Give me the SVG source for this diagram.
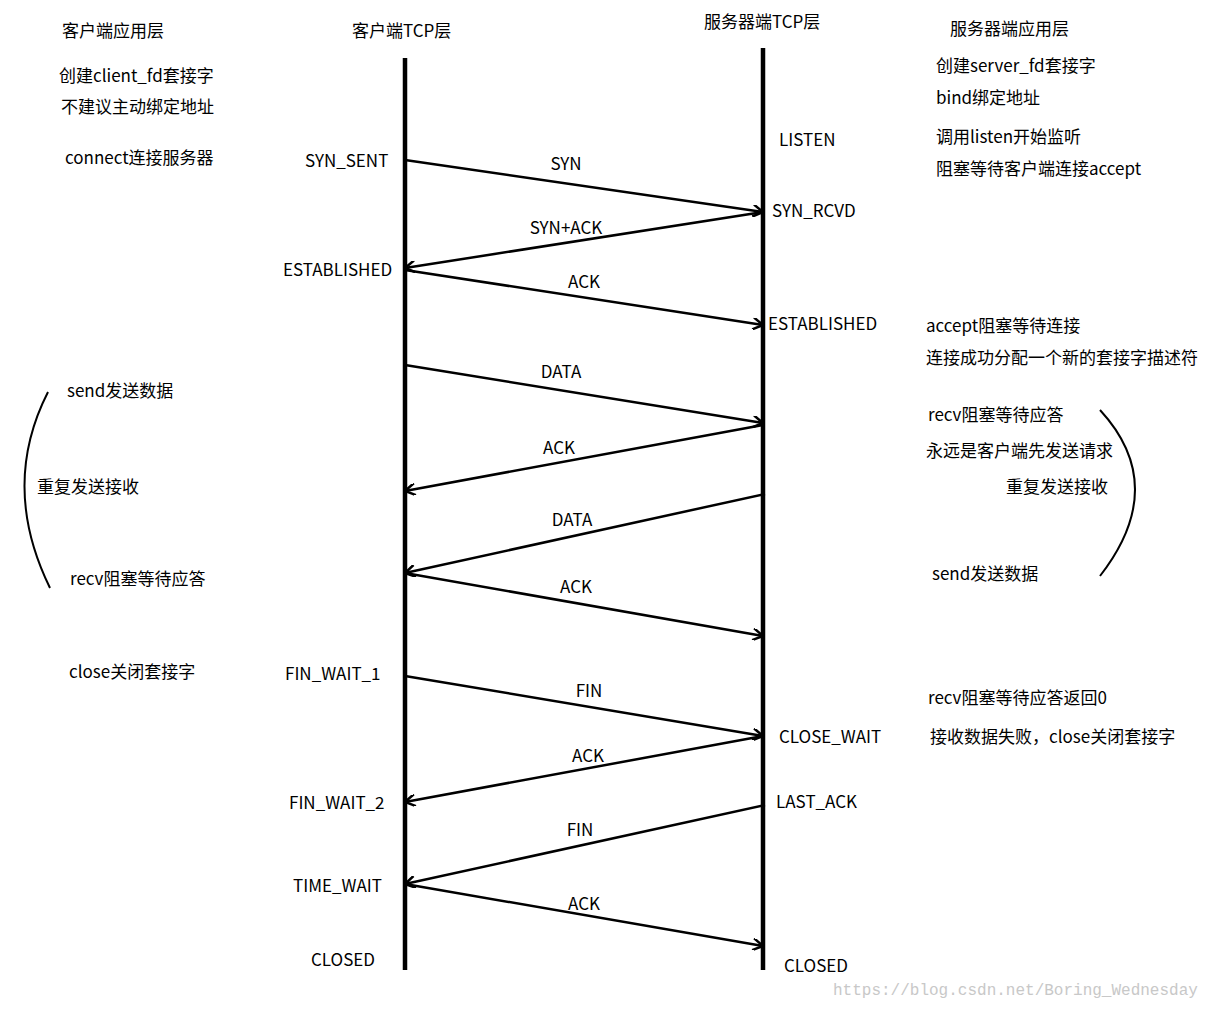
<svg xmlns="http://www.w3.org/2000/svg" width="1224" height="1009" viewBox="0 0 1224 1009">
<defs>
<style>
text{font-family:"Noto Sans CJK SC","Liberation Sans",sans-serif;font-size:17px;fill:#000}
.c{text-anchor:middle}
.a{stroke:#000;stroke-width:2.5;fill:none;marker-end:url(#m)}
.wm{font-family:"Liberation Mono",monospace;font-size:16px;fill:#c8c8c8}
</style>
<marker id="m" viewBox="0 0 12 12" refX="11" refY="6" markerWidth="12" markerHeight="12" markerUnits="userSpaceOnUse" orient="auto"><path d="M1,0 L11,6 L1,12" fill="none" stroke="#000" stroke-width="2.5"/></marker>
</defs>
<rect width="1224" height="1009" fill="#fff"/>
<g id="lifelines" stroke="#000" stroke-width="4.5">
<line x1="405" y1="58" x2="405" y2="970"/>
<line x1="763" y1="48" x2="763" y2="970"/>
</g>
<g id="connectors">
<line class="a" x1="405" y1="160" x2="763" y2="212"/>
<line class="a" x1="763" y1="212" x2="405" y2="268"/>
<line class="a" x1="405" y1="270" x2="763" y2="325"/>
<line class="a" x1="405" y1="365" x2="763" y2="423"/>
<line class="a" x1="763" y1="425" x2="405" y2="491"/>
<line class="a" x1="765" y1="494" x2="405" y2="573"/>
<line class="a" x1="405" y1="573" x2="763" y2="636"/>
<line class="a" x1="405" y1="676" x2="763" y2="736"/>
<line class="a" x1="763" y1="736" x2="405" y2="802"/>
<line class="a" x1="765" y1="805" x2="405" y2="884"/>
<line class="a" x1="405" y1="884" x2="763" y2="946"/>
<path d="M48,392 Q0,486 50,588" stroke="#000" stroke-width="2" fill="none"/>
<path d="M1100,410 Q1170,486 1100,576" stroke="#000" stroke-width="2" fill="none"/>
</g>
<g id="labels">
<text class="c" x="566" y="170">SYN</text>
<text class="c" x="566" y="234">SYN+ACK</text>
<text class="c" x="584" y="288">ACK</text>
<text class="c" x="561" y="378">DATA</text>
<text class="c" x="559" y="454">ACK</text>
<text class="c" x="572" y="526">DATA</text>
<text class="c" x="576" y="593">ACK</text>
<text class="c" x="589" y="697">FIN</text>
<text class="c" x="588" y="762">ACK</text>
<text class="c" x="580" y="836">FIN</text>
<text class="c" x="584" y="910">ACK</text>
</g>
<g id="client-states">
<text x="305" y="167">SYN_SENT</text>
<text x="283" y="276">ESTABLISHED</text>
<text x="285" y="680">FIN_WAIT_1</text>
<text x="289" y="809">FIN_WAIT_2</text>
<text x="293" y="892">TIME_WAIT</text>
<text x="311" y="966">CLOSED</text>
</g>
<g id="server-states">
<text x="779" y="146">LISTEN</text>
<text x="772" y="217">SYN_RCVD</text>
<text x="768" y="330">ESTABLISHED</text>
<text x="779" y="743">CLOSE_WAIT</text>
<text x="776" y="808">LAST_ACK</text>
<text x="784" y="972">CLOSED</text>
</g>
<g id="headers">
<text x="62" y="37">客户端应用层</text>
<text x="352" y="37">客户端TCP层</text>
<text x="704" y="28">服务器端TCP层</text>
<text x="950" y="35">服务器端应用层</text>
</g>
<g id="client-app">
<text x="59" y="82">创建client_fd套接字</text>
<text x="61" y="113">不建议主动绑定地址</text>
<text x="65" y="164">connect连接服务器</text>
<text x="67" y="397">send发送数据</text>
<text x="37" y="493">重复发送接收</text>
<text x="70" y="585">recv阻塞等待应答</text>
<text x="69" y="678">close关闭套接字</text>
</g>
<g id="server-app">
<text x="936" y="72">创建server_fd套接字</text>
<text x="936" y="104">bind绑定地址</text>
<text x="936" y="143">调用listen开始监听</text>
<text x="936" y="175">阻塞等待客户端连接accept</text>
<text x="926" y="332">accept阻塞等待连接</text>
<text x="926" y="364">连接成功分配一个新的套接字描述符</text>
<text x="928" y="421">recv阻塞等待应答</text>
<text x="926" y="457">永远是客户端先发送请求</text>
<text x="1006" y="493">重复发送接收</text>
<text x="932" y="580">send发送数据</text>
<text x="928" y="704">recv阻塞等待应答返回0</text>
<text x="930" y="743">接收数据失败，close关闭套接字</text>
</g>
<text class="wm" x="833" y="995">https://blog.csdn.net/Boring_Wednesday</text>
</svg>
